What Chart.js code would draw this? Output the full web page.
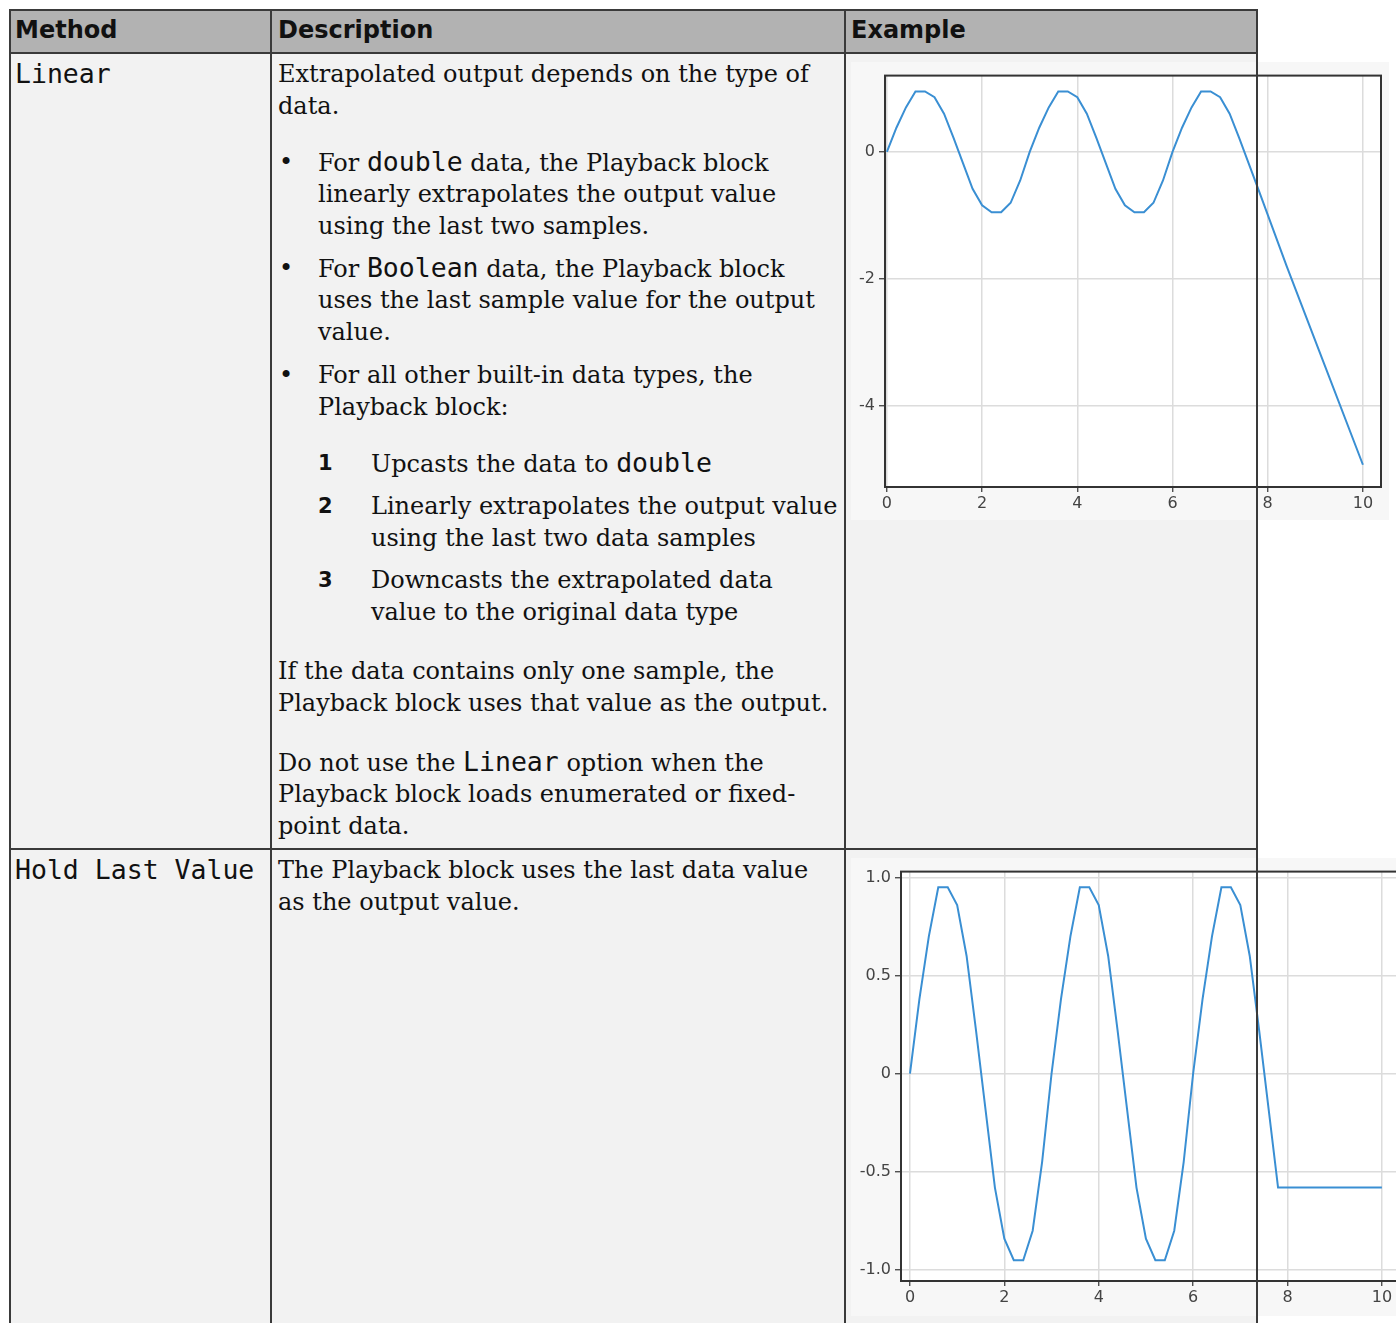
<!DOCTYPE html>
<html>
<head>
<meta charset="utf-8">
<script src="https://cdn.jsdelivr.net/npm/chart.js@4"></script>
<style>
  body { margin: 0; background: #fff; width: 1396px; height: 1323px; overflow: hidden; position: relative; }
  .box { position: absolute; }
  .line { position: absolute; background: #3a3a3a; z-index: 3; }
  .t { position: absolute; white-space: pre; line-height: 32px; height: 32px; font-family: "DejaVu Serif", serif; font-size: 24px; color: #111; }
  .hdr { font-family: "DejaVu Sans", sans-serif; font-weight: bold; font-size: 24px; }
  .mono, code { font-family: "DejaVu Sans Mono", monospace; font-size: 26.5px; }
  .num { font-family: "DejaVu Sans", sans-serif; font-weight: bold; font-size: 21px; }
  canvas { position: absolute; z-index: 1; }
</style>
</head>
<body>
<div id="page"></div>
<canvas id="linearChart"></canvas>
<canvas id="holdChart"></canvas>
<script>
// sample times and values
const sampleTimes = [0, 0.2, 0.4, 0.6, 0.8, 1.0, 1.2, 1.4, 1.6, 1.8, 2.0, 2.2, 2.4, 2.6, 2.8,
    3.0, 3.2, 3.4, 3.6, 3.8, 4.0, 4.2, 4.4, 4.6, 4.8, 5.0, 5.2, 5.4, 5.6, 5.8,
    6.0, 6.2, 6.4, 6.6, 6.8, 7.0, 7.2, 7.4, 7.6, 7.8];
const sampleValues = [0, 0.38, 0.70, 0.95, 0.95, 0.86, 0.60, 0.22, -0.18, -0.58, -0.84, -0.95, -0.95, -0.80, -0.45,
    0, 0.38, 0.70, 0.95, 0.95, 0.86, 0.60, 0.22, -0.18, -0.58, -0.84, -0.95, -0.95, -0.80, -0.45,
    0, 0.38, 0.70, 0.95, 0.95, 0.86, 0.60, 0.22, -0.18, -0.58];

// extrapolated parts after the last sample
const linearTailTimes = [8.4, 9.2, 10.0];
const linearTailValues = [-1.80, -3.36, -4.92];
const holdTailTimes = [10.0];
const holdTailValues = [-0.58];

const linearTicksY = [0, -2, -4];
const holdTicksY = [1.0, 0.5, 0, -0.5, -1.0];
const ticksX = [0, 2, 4, 6, 8, 10];

// table text, one entry per rendered line: [x, centerY, html]
const headerCells = [[15, 30, "Method"], [278, 30, "Description"], [851, 30, "Example"]];
const methodCells = [[15, 74, "Linear"], [15, 870, "Hold Last Value"]];
const descLines = [
    [278, 74, "Extrapolated output depends on the type of"],
    [278, 106, "data."],
    [279, 162, "\u2022"],
    [318, 162, "For <code>double</code> data, the Playback block"],
    [318, 194, "linearly extrapolates the output value"],
    [318, 226, "using the last two samples."],
    [279, 268, "\u2022"],
    [318, 268, "For <code>Boolean</code> data, the Playback block"],
    [318, 300, "uses the last sample value for the output"],
    [318, 332, "value."],
    [279, 375, "\u2022"],
    [318, 375, "For all other built-in data types, the"],
    [318, 407, "Playback block:"],
    [371, 463, "Upcasts the data to <code>double</code>"],
    [371, 506, "Linearly extrapolates the output value"],
    [371, 538, "using the last two data samples"],
    [371, 580, "Downcasts the extrapolated data"],
    [371, 612, "value to the original data type"],
    [278, 671, "If the data contains only one sample, the"],
    [278, 703, "Playback block uses that value as the output."],
    [278, 762, "Do not use the <code>Linear</code> option when the"],
    [278, 794, "Playback block loads enumerated or fixed-"],
    [278, 826, "point data."],
    [278, 870, "The Playback block uses the last data value"],
    [278, 902, "as the output value."]
];
const stepNumbers = [[318, 463, "1"], [318, 506, "2"], [318, 580, "3"]];

const page = document.getElementById("page");

function addBox(left, top, width, height, color) {
    const d = document.createElement("div");
    d.className = "box";
    d.style.cssText = `left:${left}px;top:${top}px;width:${width}px;height:${height}px;background:${color}`;
    page.appendChild(d);
}

function addLine(left, top, width, height) {
    const d = document.createElement("div");
    d.className = "line";
    d.style.cssText = `left:${left}px;top:${top}px;width:${width}px;height:${height}px`;
    page.appendChild(d);
}

function addText(x, cy, html, extraClass) {
    const d = document.createElement("div");
    d.className = "t" + (extraClass ? " " + extraClass : "");
    d.style.left = x + "px";
    d.style.top = (cy - 16) + "px";
    d.innerHTML = html;
    page.appendChild(d);
}

// cell backgrounds
addBox(9, 9, 1248, 44, "#b2b2b2");
addBox(9, 53, 1248, 1270, "#f2f2f2");

// grid lines of the table (drawn above the images)
addLine(9, 9, 1249, 2);
addLine(9, 52, 1249, 2);
addLine(9, 848, 1249, 2);
addLine(9, 9, 2, 1314);
addLine(270, 9, 2, 1314);
addLine(844, 9, 2, 1314);
addLine(1256, 9, 2, 1314);

headerCells.forEach(c => addText(c[0], c[1], c[2], "hdr"));
methodCells.forEach(c => addText(c[0], c[1], c[2], "mono"));
descLines.forEach(c => addText(c[0], c[1], c[2]));
stepNumbers.forEach(c => addText(c[0], c[1], c[2], "num"));

function toPoints(times, values) {
    return times.map((t, i) => ({ x: t, y: values[i] }));
}

// white plot area plus a dark frame around it
const plotFrame = {
    id: "plotFrame",
    beforeDraw(chart) {
        const a = chart.chartArea;
        const c = chart.ctx;
        c.save();
        c.fillStyle = "#ffffff";
        c.fillRect(a.left, a.top, a.right - a.left, a.bottom - a.top);
        c.restore();
    },
    afterDraw(chart) {
        const a = chart.chartArea;
        const c = chart.ctx;
        c.save();
        c.strokeStyle = "#333333";
        c.lineWidth = 2;
        c.strokeRect(a.left, a.top, a.right - a.left, a.bottom - a.top);
        c.restore();
    }
};

function makeChart(id, box, points, yTicks, yRange, xRange, yAxisWidth, xAxisHeight, padRight, fmt) {
    const canvas = document.getElementById(id);
    canvas.style.left = box[0] + "px";
    canvas.style.top = box[1] + "px";
    canvas.style.width = box[2] + "px";
    canvas.style.height = box[3] + "px";
    canvas.width = box[2];
    canvas.height = box[3];
    canvas.style.background = "#f7f7f7";

    const tickFont = { family: "DejaVu Sans", size: 16 };
    return new Chart(canvas, {
        type: "line",
        data: {
            datasets: [{
                data: points,
                borderColor: "#3a8fd3",
                borderWidth: 2,
                pointRadius: 0,
                tension: 0,
                fill: false
            }]
        },
        options: {
            responsive: false,
            animation: false,
            layout: { padding: { top: 11, right: padRight, left: 0, bottom: 0 } },
            plugins: { legend: { display: false }, tooltip: { enabled: false } },
            scales: {
                x: {
                    type: "linear",
                    min: xRange[0],
                    max: xRange[1],
                    afterFit: s => { s.height = xAxisHeight; },
                    afterBuildTicks: s => { s.ticks = ticksX.map(v => ({ value: v })); },
                    border: { display: false },
                    grid: { color: "#dcdcdc", lineWidth: 1.5, tickColor: "#333", tickLength: 5, tickWidth: 1.2 },
                    ticks: { font: tickFont, color: "#444", padding: 2, maxRotation: 0, callback: v => String(v) }
                },
                y: {
                    type: "linear",
                    min: yRange[0],
                    max: yRange[1],
                    afterFit: s => { s.width = yAxisWidth; },
                    afterBuildTicks: s => { s.ticks = yTicks.map(v => ({ value: v })); },
                    border: { display: false },
                    grid: { color: "#dcdcdc", lineWidth: 1.5, tickColor: "#333", tickLength: 6, tickWidth: 1.2 },
                    ticks: { font: tickFont, color: "#444", padding: 4, callback: fmt }
                }
            }
        },
        plugins: [plotFrame]
    });
}

makeChart("linearChart", [851, 62, 538, 458],
    toPoints(sampleTimes.concat(linearTailTimes), sampleValues.concat(linearTailValues)),
    linearTicksY, [-5.27, 1.2], [-0.04, 10.38], 34, 33, 8,
    v => String(v));

makeChart("holdChart", [851, 858, 570, 458],
    toPoints(sampleTimes.concat(holdTailTimes), sampleValues.concat(holdTailValues)),
    holdTicksY, [-1.056, 1.03], [-0.19, 10.49], 50, 35, 16,
    v => (v === 0 ? "0" : v.toFixed(1)));
</script>
</body>
</html>
